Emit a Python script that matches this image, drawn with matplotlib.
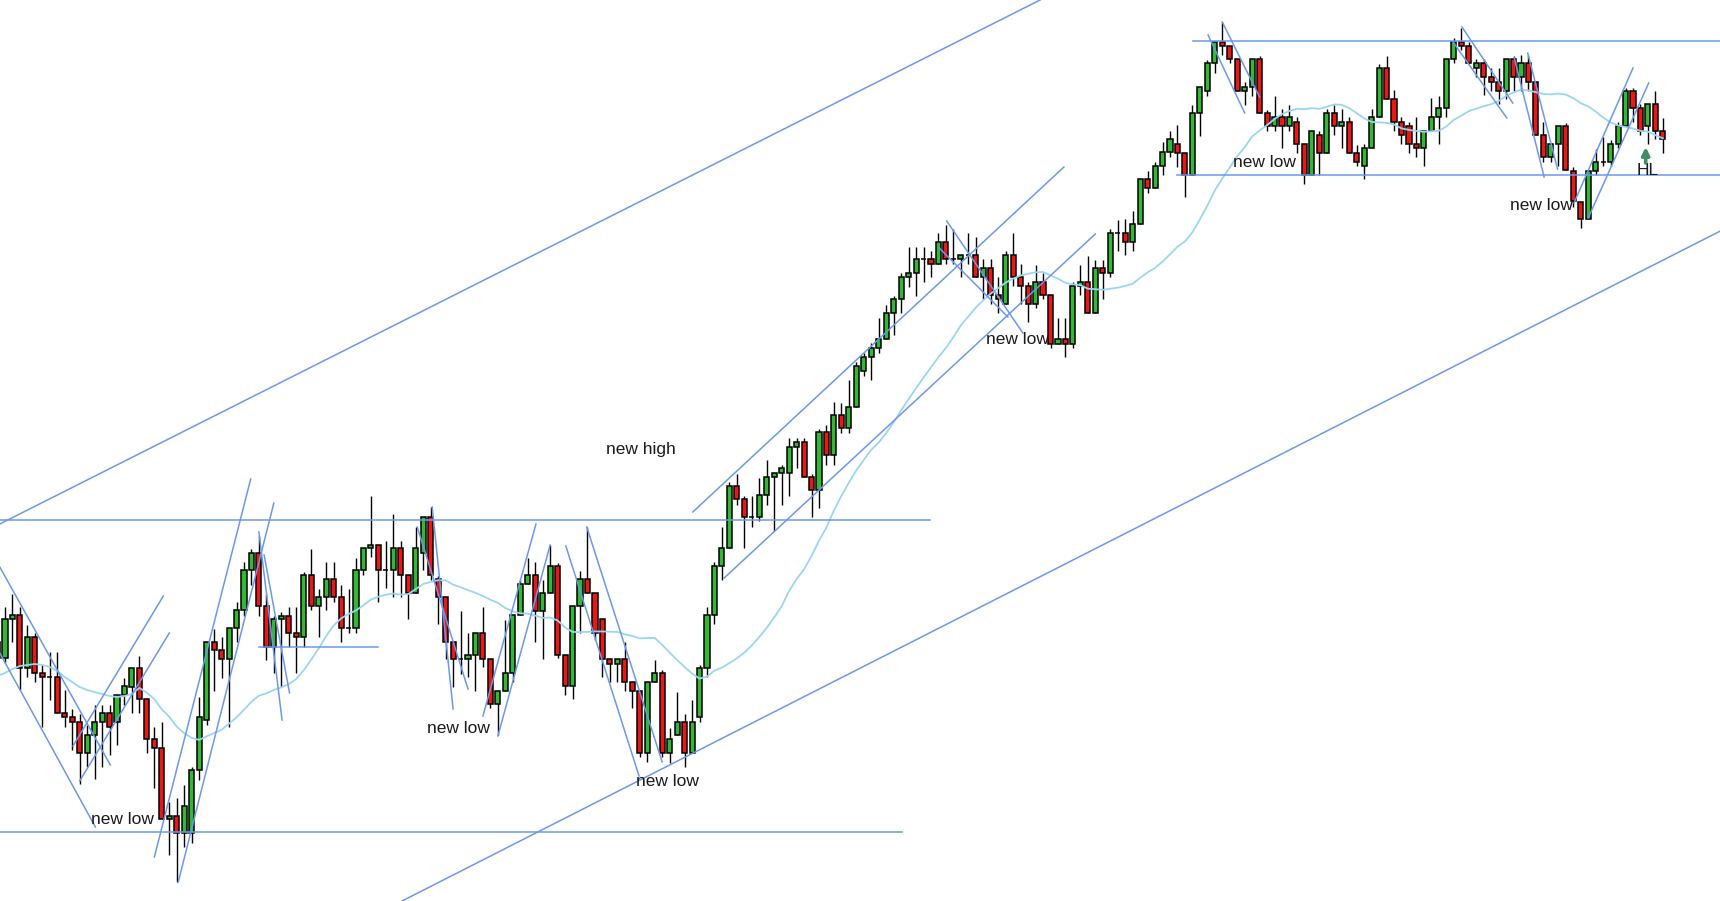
"""
Candlestick chart with hand-drawn trend lines, ranges and swing notes.
Prices are in arbitrary points; x is the bar number.
"""
import numpy as np
import pandas as pd
import matplotlib
matplotlib.use("Agg")
import matplotlib.pyplot as plt

# =============================================================================
# Data (bar -1 is the partly visible first bar)
# =============================================================================
bar_index = np.arange(-1, 223)

opens = [
    342, 342, 381, 385, 332, 363, 327, 323, 323, 287,
    283, 278, 247, 265, 278, 287, 278, 305, 313, 332,
    301, 261, 252, 181, 184, 167, 167, 230, 280, 358,
    350, 341, 372, 390, 430, 447, 394, 353, 381, 384,
    367, 363, 425, 394, 403, 421, 403, 372, 372, 430,
    452, 455, 430, 430, 452, 425, 407, 447, 483, 421,
    403, 358, 341, 341, 345, 367, 341, 296, 309, 327,
    385, 416, 425, 389, 407, 434, 345, 314, 394, 421,
    407, 381, 341, 336, 341, 318, 309, 247, 318, 327,
    247, 265, 278, 247, 283, 332, 385, 434, 452, 514,
    501, 483, 483, 505, 523, 527, 527, 553, 558, 523,
    510, 568, 545, 585, 572, 593, 629, 643, 652, 661,
    687, 701, 723, 727, 741, 741, 736, 758, 741, 741,
    745, 745, 723, 732, 705, 696, 745, 723, 714, 696,
    718, 705, 656, 661, 656, 714, 718, 687, 732, 727,
    767, 767, 758, 776, 821, 812, 834, 848, 856, 847,
    825, 887, 909, 937, 958, 954, 941, 909, 913, 941,
    887, 874, 883, 874, 878, 856, 825, 865, 847, 887,
    874, 878, 847, 834, 852, 883, 932, 901, 878, 874,
    856, 852, 869, 883, 892, 941, 958, 954, 932, 937,
    923, 918, 909, 941, 923, 937, 918, 865, 843, 856,
    874, 829, 798, 781, 829, 838, 838, 856, 874, 909,
    892, 874, 896, 869,
]

highs = [
    365, 393, 406, 393, 375, 367, 335, 348, 348, 310,
    291, 286, 275, 295, 295, 295, 305, 322, 332, 344,
    301, 273, 278, 198, 202, 215, 233, 303, 358, 371,
    363, 372, 398, 438, 451, 464, 406, 384, 388, 393,
    393, 428, 451, 411, 438, 438, 415, 411, 442, 452,
    504, 455, 459, 486, 459, 425, 473, 483, 493, 424,
    403, 358, 389, 367, 367, 393, 341, 309, 380, 385,
    420, 442, 438, 420, 455, 437, 345, 394, 429, 473,
    407, 381, 341, 341, 358, 318, 309, 318, 340, 330,
    272, 308, 286, 300, 335, 393, 438, 473, 518, 526,
    504, 504, 522, 540, 527, 535, 562, 562, 562, 526,
    571, 575, 598, 597, 620, 638, 647, 657, 682, 695,
    704, 727, 753, 753, 753, 749, 767, 775, 771, 745,
    767, 763, 741, 741, 723, 749, 767, 736, 718, 735,
    727, 705, 682, 682, 718, 735, 744, 740, 740, 771,
    780, 781, 789, 821, 829, 838, 858, 869, 875, 847,
    895, 913, 940, 958, 978, 954, 941, 918, 941, 944,
    890, 904, 891, 895, 883, 856, 869, 869, 891, 895,
    891, 883, 855, 856, 891, 936, 944, 910, 883, 878,
    883, 869, 902, 904, 941, 962, 972, 958, 941, 941,
    932, 932, 941, 944, 945, 945, 918, 878, 856, 874,
    877, 833, 798, 829, 851, 863, 860, 878, 912, 912,
    896, 896, 909, 882,
]

lows = [
    335, 337, 358, 310, 323, 318, 273, 300, 287, 273,
    250, 216, 233, 221, 233, 245, 255, 295, 287, 287,
    247, 212, 181, 145, 118, 153, 157, 220, 275, 309,
    322, 273, 358, 384, 415, 384, 340, 327, 313, 353,
    327, 353, 390, 363, 390, 398, 358, 367, 367, 425,
    443, 398, 412, 403, 403, 381, 407, 430, 420, 376,
    341, 313, 326, 323, 309, 333, 292, 265, 309, 318,
    385, 416, 358, 341, 407, 342, 305, 301, 367, 407,
    360, 323, 318, 318, 309, 292, 243, 238, 318, 243,
    237, 265, 233, 247, 278, 323, 376, 420, 452, 495,
    452, 473, 479, 495, 469, 495, 504, 532, 523, 483,
    492, 535, 535, 567, 567, 593, 624, 620, 647, 661,
    665, 687, 713, 704, 718, 723, 736, 736, 736, 723,
    736, 723, 701, 696, 687, 696, 714, 696, 678, 692,
    701, 652, 656, 643, 652, 705, 687, 687, 701, 723,
    749, 745, 749, 776, 807, 812, 825, 843, 833, 803,
    825, 864, 904, 927, 945, 937, 909, 895, 904, 887,
    869, 869, 852, 869, 847, 816, 825, 825, 847, 865,
    852, 847, 834, 821, 852, 883, 901, 869, 856, 847,
    843, 834, 869, 856, 883, 937, 950, 937, 923, 905,
    909, 896, 901, 909, 909, 909, 865, 838, 838, 834,
    830, 793, 772, 781, 825, 834, 834, 852, 874, 878,
    865, 856, 861, 847,
]

closes = [
    358, 381, 385, 332, 363, 327, 323, 323, 287, 283,
    278, 247, 265, 278, 287, 273, 305, 314, 332, 301,
    261, 252, 181, 184, 167, 194, 230, 283, 358, 350,
    341, 372, 390, 430, 447, 394, 353, 381, 384, 367,
    363, 425, 394, 403, 421, 403, 372, 372, 430, 452,
    455, 430, 430, 452, 425, 407, 452, 483, 425, 403,
    358, 341, 341, 345, 367, 341, 296, 309, 327, 385,
    416, 425, 389, 407, 434, 345, 314, 394, 421, 407,
    367, 341, 336, 341, 318, 309, 247, 318, 327, 247,
    261, 278, 247, 278, 332, 385, 434, 452, 514, 501,
    483, 483, 505, 523, 527, 532, 553, 558, 523, 510,
    568, 545, 585, 572, 593, 634, 643, 652, 661, 687,
    701, 723, 727, 741, 741, 736, 758, 741, 741, 745,
    745, 723, 732, 705, 701, 745, 723, 714, 696, 718,
    705, 656, 661, 656, 714, 718, 687, 732, 727, 767,
    767, 758, 776, 821, 812, 834, 848, 861, 847, 825,
    887, 913, 937, 958, 954, 941, 909, 913, 941, 887,
    874, 883, 874, 883, 856, 825, 869, 847, 887, 874,
    878, 847, 838, 852, 883, 932, 901, 878, 865, 856,
    852, 869, 883, 892, 941, 958, 954, 937, 937, 923,
    918, 909, 941, 923, 937, 918, 865, 843, 856, 874,
    830, 799, 781, 829, 838, 838, 856, 874, 909, 892,
    869, 896, 869, 861,
]

# MA(20) values for the bars before a full window exists
ma_head = [324, 327, 331, 334, 335, 336, 335, 333, 329, 323,
           318, 313, 310, 308, 306, 304, 303, 304, 306]

# horizontal levels: (price, first bar, last bar)
levels = [
    (480, -0.7, 123.9),
    (168, -0.7, 120.1),
    (959, 159.1, 229.7),
    (825, 157.0, 229.7),
    (353, 34.0, 49.9),
]

# trend lines: (bar0, price0, bar1, price1)
trend_lines = [
    (-0.7, 476, 138.6, 1000),
    (52.9, 98, 229.7, 769),
    (-0.7, 433, 14.1, 235),
    (-0.7, 347, 12.1, 173),
    (9.1, 254, 21.2, 404),
    (10.0, 219, 22.0, 367),
    (20.0, 143, 32.9, 521),
    (23.2, 118, 36.0, 497),
    (34.0, 468, 37.1, 280),
    (34.7, 445, 38.1, 307),
    (57.2, 493, 60.0, 291),
    (55.2, 473, 62.0, 311),
    (64.0, 284, 71.1, 476),
    (66.0, 264, 73.0, 455),
    (75.1, 454, 84.9, 224),
    (77.9, 473, 88.0, 238),
    (92.1, 488, 141.8, 833),
    (96.3, 422, 146.0, 766),
    (126.1, 779, 136.3, 667),
    (125.1, 752, 134.3, 683),
    (161.1, 965, 166.0, 887),
    (163.0, 978, 168.0, 903),
    (195.1, 973, 201.9, 897),
    (193.9, 958, 201.1, 882),
    (202.1, 942, 206.1, 823),
    (203.9, 947, 207.9, 831),
    (210.1, 797, 218.0, 932),
    (212.0, 782, 220.1, 917),
]

# notes: (bar, price at text baseline, label)
notes = [
    (15.7, 176, "new low"),
    (60.7, 267, "new low"),
    (88.7, 214, "new low"),
    (135.6, 656, "new low"),
    (168.7, 833, "new low"),
    (205.7, 790, "new low"),
    (85.2, 546, "new high"),
    (220.0, 825, "HL"),
]
hl_arrow_bar = 219.7
hl_arrow_from, hl_arrow_to = 837, 853

# =============================================================================
# Drawing
# =============================================================================
o = np.array(opens, dtype=float)
h = np.array(highs, dtype=float)
l = np.array(lows, dtype=float)
c = np.array(closes, dtype=float)

ma = pd.Series(c).rolling(20).mean().to_numpy()
ma[:len(ma_head)] = ma_head

line_blue = '#6b98ec'
up_col = '#33b833'
dn_col = '#ee1515'

fig = plt.figure(figsize=(17.2, 9.01), dpi=100)
ax = fig.add_axes([0, 0, 1, 1])
ax.set_xlim(-0.67, 229.65)
ax.set_ylim(99, 1000)
ax.axis('off')

# wicks then bodies
ax.vlines(bar_index, l, h, color='black', linewidth=1.0, zorder=2)
colors = [up_col if cl >= op else dn_col for op, cl in zip(o, c)]
ax.bar(bar_index, c - o, bottom=o, width=0.68, color=colors,
       edgecolor='black', linewidth=1.1, zorder=3)

# moving average
ax.plot(bar_index, ma, color='#9ad6f2', linewidth=1.3, zorder=4)

for price, b0, b1 in levels:
    ax.plot([b0, b1], [price, price], color=line_blue, linewidth=1.1, zorder=5)

for b0, p0, b1, p1 in trend_lines:
    ax.plot([b0, b1], [p0, p1], color=line_blue, linewidth=1.1, zorder=5)

for b, p, txt in notes:
    ax.text(b, p, txt, ha='center', va='baseline', fontsize=12.5,
            family=['Liberation Sans', 'DejaVu Sans'], color='#1a1a1a', zorder=6)

ax.annotate('', xy=(hl_arrow_bar, hl_arrow_to), xytext=(hl_arrow_bar, hl_arrow_from),
            arrowprops=dict(arrowstyle='-|>', color='#3f8f63', lw=2.6,
                            mutation_scale=11, shrinkA=0, shrinkB=0),
            zorder=6)

fig.savefig('out.png', dpi=100, facecolor='white')
plt.close(fig)
